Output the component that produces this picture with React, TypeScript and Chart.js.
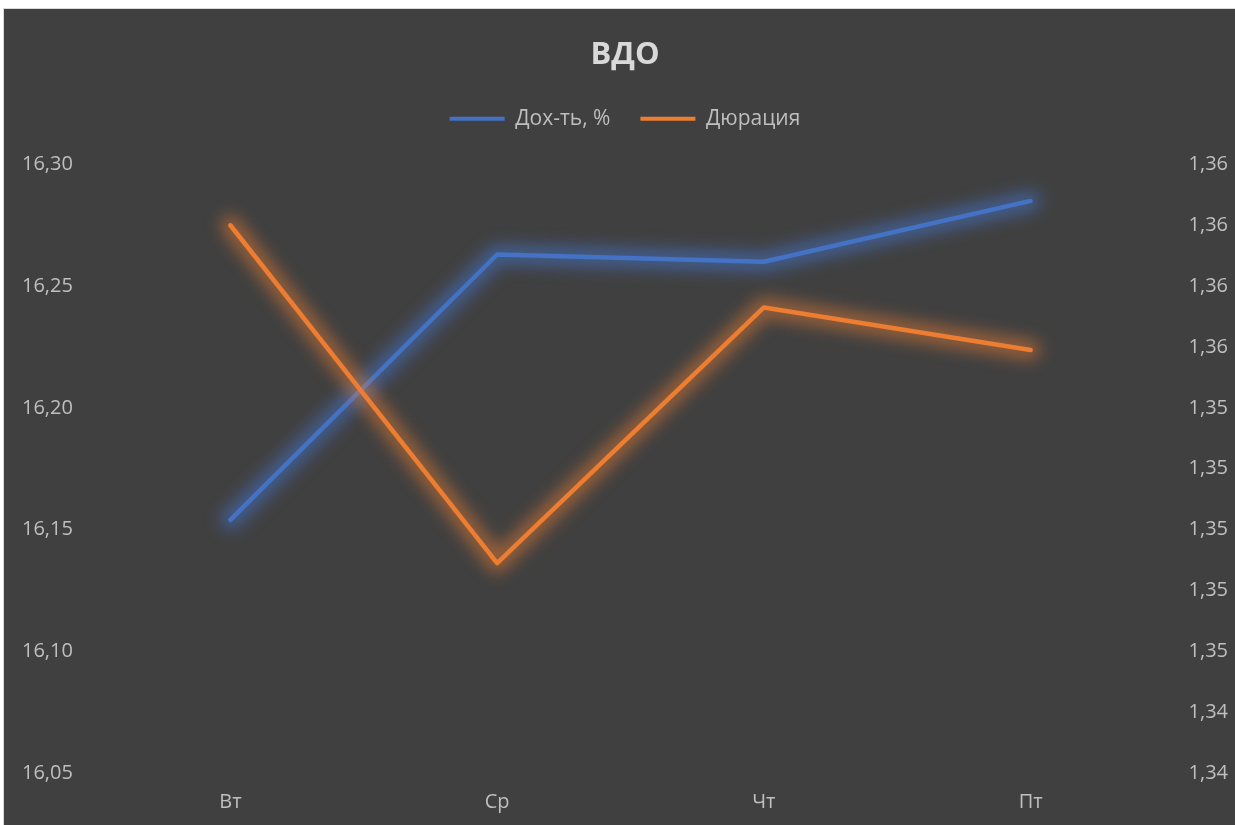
import React, { useEffect, useRef } from "react";
import { Chart, registerables } from "chart.js";

Chart.register(...registerables);

const titleText = "ВДО";
const categories = ["Вт", "Ср", "Чт", "Пт"];
const yieldLabel = "Дох-ть, %";
const yieldValues = [16.154, 16.263, 16.26, 16.285];
const durationLabel = "Дюрация";
const durationValues = [1.36, 1.3489, 1.3573, 1.3559];
const leftMin = 16.05;
const leftMax = 16.3;
const leftStep = 0.05;
const rightMin = 1.342;
const rightMax = 1.362;
const rightStep = 0.002;

const BLUE = "#4472C4";
const ORANGE = "#ED7D31";
const FONT = "'Open Sans', 'Noto Sans', sans-serif";
const TEXT = "#bfbfbf";

const glowPlugin = {
  id: "glow",
  beforeDatasetDraw(chart: any, args: any) {
    const ctx = chart.ctx;
    const meta = args.meta;
    const pts = meta.data;
    if (!pts || pts.length < 2) return;
    ctx.save();
    ctx.filter = "blur(8px)";
    ctx.strokeStyle = args.index === 0 ? "rgba(68,114,196,0.6)" : "rgba(237,125,49,0.5)";
    ctx.lineWidth = 20;
    ctx.lineCap = "round";
    ctx.lineJoin = "round";
    ctx.beginPath();
    ctx.moveTo(pts[0].x, pts[0].y);
    for (let i = 1; i < pts.length; i++) ctx.lineTo(pts[i].x, pts[i].y);
    ctx.stroke();
    ctx.restore();
  },
};

const fmt = (v: number) => Number(v).toFixed(2).replace(".", ",");

export default function App() {
  const ref = useRef<HTMLCanvasElement>(null);
  useEffect(() => {
    if (!ref.current) return;
    const chart = new Chart(ref.current, {
      type: "line",
      data: {
        labels: categories,
        datasets: [
          {
            label: yieldLabel,
            data: yieldValues,
            borderColor: BLUE,
            backgroundColor: BLUE,
            borderWidth: 4.5,
            pointRadius: 0,
            borderCapStyle: "round",
            borderJoinStyle: "round",
            tension: 0,
            yAxisID: "y",
            order: 1,
          },
          {
            label: durationLabel,
            data: durationValues,
            borderColor: ORANGE,
            backgroundColor: ORANGE,
            borderWidth: 4.5,
            pointRadius: 0,
            borderCapStyle: "round",
            borderJoinStyle: "round",
            tension: 0,
            yAxisID: "y1",
            order: 0,
          },
        ],
      },
      options: {
        animation: false,
        responsive: false,
        maintainAspectRatio: false,
        layout: { padding: { left: 18, right: 7, top: 0, bottom: 0 } },
        plugins: {
          title: {
            display: true,
            text: titleText,
            color: "#d9d9d9",
            font: { family: FONT, size: 31, weight: "bold" },
            padding: { top: 28, bottom: 4 },
          },
          subtitle: {
            display: true,
            text: "",
            weight: 500,
            font: { size: 1 },
            padding: { top: 0, bottom: 24 },
          } as any,
          legend: {
            display: true,
            labels: {
              color: TEXT,
              font: { family: FONT, size: 21 },
              boxWidth: 55,
              boxHeight: 4,
              padding: 30,
              generateLabels: (c: any) =>
                c.data.datasets.map((ds: any, i: number) => ({
                  text: ds.label,
                  fillStyle: ds.borderColor,
                  strokeStyle: ds.borderColor,
                  lineWidth: 0,
                  fontColor: TEXT,
                  hidden: false,
                  datasetIndex: i,
                })),
            },
          },
          tooltip: { enabled: false },
        },
        scales: {
          x: {
            offset: true,
            grid: { display: false, drawTicks: false },
            border: { display: false },
            ticks: { color: TEXT, font: { family: FONT, size: 20 }, padding: 17 },
            afterFit: (s: any) => {
              s.height = 52;
            },
          },
          y: {
            position: "left",
            min: leftMin,
            max: leftMax,
            grid: { display: false, drawTicks: false },
            border: { display: false },
            ticks: {
              stepSize: leftStep,
              color: TEXT,
              font: { family: FONT, size: 20 },
              crossAlign: "far",
              callback: (v: any) => fmt(v),
            },
            afterFit: (s: any) => {
              s.width = 75;
            },
          },
          y1: {
            position: "right",
            min: rightMin,
            max: rightMax,
            grid: { display: false, drawTicks: false },
            border: { display: false },
            ticks: {
              stepSize: rightStep,
              color: TEXT,
              font: { family: FONT, size: 20 },
              crossAlign: "far",
              callback: (v: any) => fmt(v),
            },
            afterFit: (s: any) => {
              s.width = 64;
            },
          },
        },
      },
      plugins: [glowPlugin],
    });
    return () => chart.destroy();
  }, []);

  return (
    <div
      style={{
        position: "fixed",
        left: 3,
        top: 8,
        width: 1232,
        height: 817,
        borderLeft: "1px solid #d9d9d9",
        borderTop: "1px solid #d9d9d9",
        boxSizing: "border-box",
        background: "#404040",
      }}
    >
      <canvas ref={ref} width={1231} height={816} style={{ display: "block" }} />
    </div>
  );
}
